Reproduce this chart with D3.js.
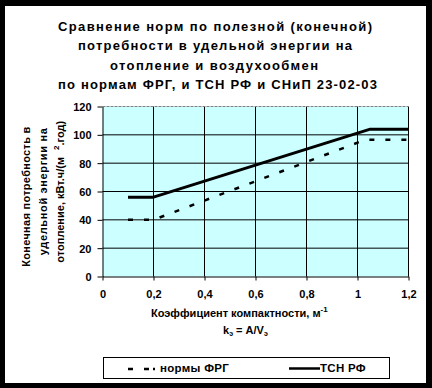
<!DOCTYPE html>
<html><head><meta charset="utf-8">
<script src="https://cdn.jsdelivr.net/npm/d3@7"></script>
<style>
html,body{margin:0;padding:0;background:#000;}
svg{display:block;}
text{font-family:"Liberation Sans",Arial,sans-serif;font-weight:bold;fill:#000;}
</style></head>
<body>
<script>
// ---- data ----
const titleLines = ["Сравнение норм по  полезной (конечной)", "потребности в удельной энергии на", "отопление и воздухообмен", "по нормам ФРГ, и ТСН РФ и СНиП 23-02-03"];
const xTicks = [0, 0.2, 0.4, 0.6, 0.8, 1.0, 1.2];
const xTickLabels = ["0", "0,2", "0,4", "0,6", "0,8", "1", "1,2"];
const yTicks = [0, 20, 40, 60, 80, 100, 120];
const frgX = [0.1, 0.2, 1.03, 1.2];
const frgY = [40, 40, 96.5, 96.5];
const tsnX = [0.1, 0.2, 1.05, 1.2];
const tsnY = [56, 56, 104, 104];
const seriesNames = ["нормы ФРГ", "ТСН РФ"];

const W = 432, H = 388;
const svg = d3.select("body").append("svg").attr("width", W).attr("height", H);
svg.append("rect").attr("width", W).attr("height", H).attr("fill", "#000");
svg.append("rect").attr("x", 5).attr("y", 6).attr("width", 421).attr("height", 377).attr("fill", "#fff");

// title
const tl = [{x:58,y:30.5,len:314},{x:78,y:50,len:274},{x:110,y:69.5,len:208},{x:58,y:89,len:319}];
titleLines.forEach((t,i)=>{
  svg.append("text").attr("x", tl[i].x).attr("y", tl[i].y).attr("font-size", 13)
    .attr("textLength", tl[i].len).attr("lengthAdjust", "spacing").text(t);
});

const x = d3.scaleLinear().domain([0, 1.2]).range([102.5, 408.5]);
const y = d3.scaleLinear().domain([0, 120]).range([276.5, 106.5]);

// plot background
svg.append("rect").attr("x", x(0)).attr("y", y(120)).attr("width", x(1.2)-x(0)).attr("height", y(0)-y(120)).attr("fill", "#CCFFFF");

// grid
const g = svg.append("g");
g.selectAll(".vg").data(xTicks.slice(1)).join("line")
  .attr("x1", d=>x(d)).attr("x2", d=>x(d)).attr("y1", y(0)).attr("y2", y(120))
  .attr("stroke", "#000").attr("stroke-width", 1);
g.selectAll(".hg").data(yTicks.slice(1, -1)).join("line")
  .attr("x1", x(0)).attr("x2", x(1.2)).attr("y1", d=>y(d)).attr("y2", d=>y(d))
  .attr("stroke", "#000").attr("stroke-width", 1);
g.append("line").attr("x1", x(0)).attr("x2", x(1.2)).attr("y1", y(120)).attr("y2", y(120))
  .attr("stroke", "#808080").attr("stroke-dasharray", "3,1");

// axes
const xAxis = d3.axisBottom(x).tickValues(xTicks).tickFormat((d,i)=>xTickLabels[i]).tickSize(4).tickPadding(10).tickSizeOuter(0);
const yAxis = d3.axisLeft(y).tickValues(yTicks).tickFormat(d=>d).tickSize(5).tickPadding(6).tickSizeOuter(0);
const gx = svg.append("g").attr("transform", `translate(0,${y(0)})`).call(xAxis);
const gy = svg.append("g").attr("transform", `translate(${x(0)},0)`).call(yAxis);
[gx, gy].forEach(a=>{
  a.select(".domain").attr("stroke", "#000");
  a.selectAll("line").attr("stroke", "#000");
  a.selectAll("text").attr("font-size", 11).attr("font-family", "Liberation Sans, Arial, sans-serif").attr("font-weight", "bold").attr("fill", "#000");
});
gy.selectAll("text").attr("dy", "0.36em");

// series
const line = d3.line().x(d=>x(d[0])).y(d=>y(d[1]));
const frg = frgX.map((v,i)=>[v, frgY[i]]);
const tsn = tsnX.map((v,i)=>[v, tsnY[i]]);
svg.append("path").attr("d", line(frg)).attr("fill", "none").attr("stroke", "#000")
  .attr("stroke-width", 2.5).attr("stroke-dasharray", "5,11");
svg.append("path").attr("d", line(tsn)).attr("fill", "none").attr("stroke", "#000")
  .attr("stroke-width", 3).attr("stroke-linejoin", "round");

// axis titles
const xt1 = svg.append("text").attr("x", 151).attr("y", 317).attr("font-size", 11);
xt1.append("tspan").text("Коэффициент компактности, м");
xt1.append("tspan").attr("dy", -5).attr("font-size", 8).text("-1");
const xt2 = svg.append("text").attr("x", 223).attr("y", 334).attr("font-size", 11);
xt2.append("tspan").text("k");
xt2.append("tspan").attr("dy", 2).attr("font-size", 7).text("э");
xt2.append("tspan").attr("dy", -2).text(" = A/V");
xt2.append("tspan").attr("dy", 2).attr("font-size", 7).text("э");

const yl = [{t:"Конечная потребность в", x:29.5, c:196.7, len:140},{t:"удельной энергии на", x:46.5, c:191.7, len:127}];
yl.forEach(o=>{
  svg.append("text").attr("transform", `translate(${o.x},${o.c}) rotate(-90)`).attr("text-anchor","middle")
    .attr("font-size", 11).attr("textLength", o.len).attr("lengthAdjust","spacing").text(o.t);
});
const y3 = svg.append("text").attr("transform", `translate(64,191.7) rotate(-90)`).attr("text-anchor","middle").attr("font-size", 11);
y3.append("tspan").text("отопление, кВт.ч/(м ");
y3.append("tspan").attr("dx", 4).attr("dy", -5).attr("font-size", 8).text("2");
y3.append("tspan").attr("dy", 5).text(".год)");

// legend
svg.append("rect").attr("x", 103.5).attr("y", 357.5).attr("width", 286).attr("height", 21)
  .attr("fill", "#fff").attr("stroke", "#000").attr("stroke-width", 1);
svg.append("line").attr("x1", 128).attr("x2", 155).attr("y1", 369).attr("y2", 369)
  .attr("stroke", "#000").attr("stroke-width", 2.5).attr("stroke-dasharray", "5,11,5,4,2,30");
svg.append("text").attr("x", 160).attr("y", 372).attr("font-size", 11.5).attr("letter-spacing", 0.3).text(seriesNames[0]);
svg.append("line").attr("x1", 289).attr("x2", 320).attr("y1", 368.5).attr("y2", 368.5)
  .attr("stroke", "#000").attr("stroke-width", 2.5);
svg.append("text").attr("x", 320).attr("y", 372).attr("font-size", 11.5).attr("letter-spacing", 0.3).text(seriesNames[1]);
</script>
</body></html>
